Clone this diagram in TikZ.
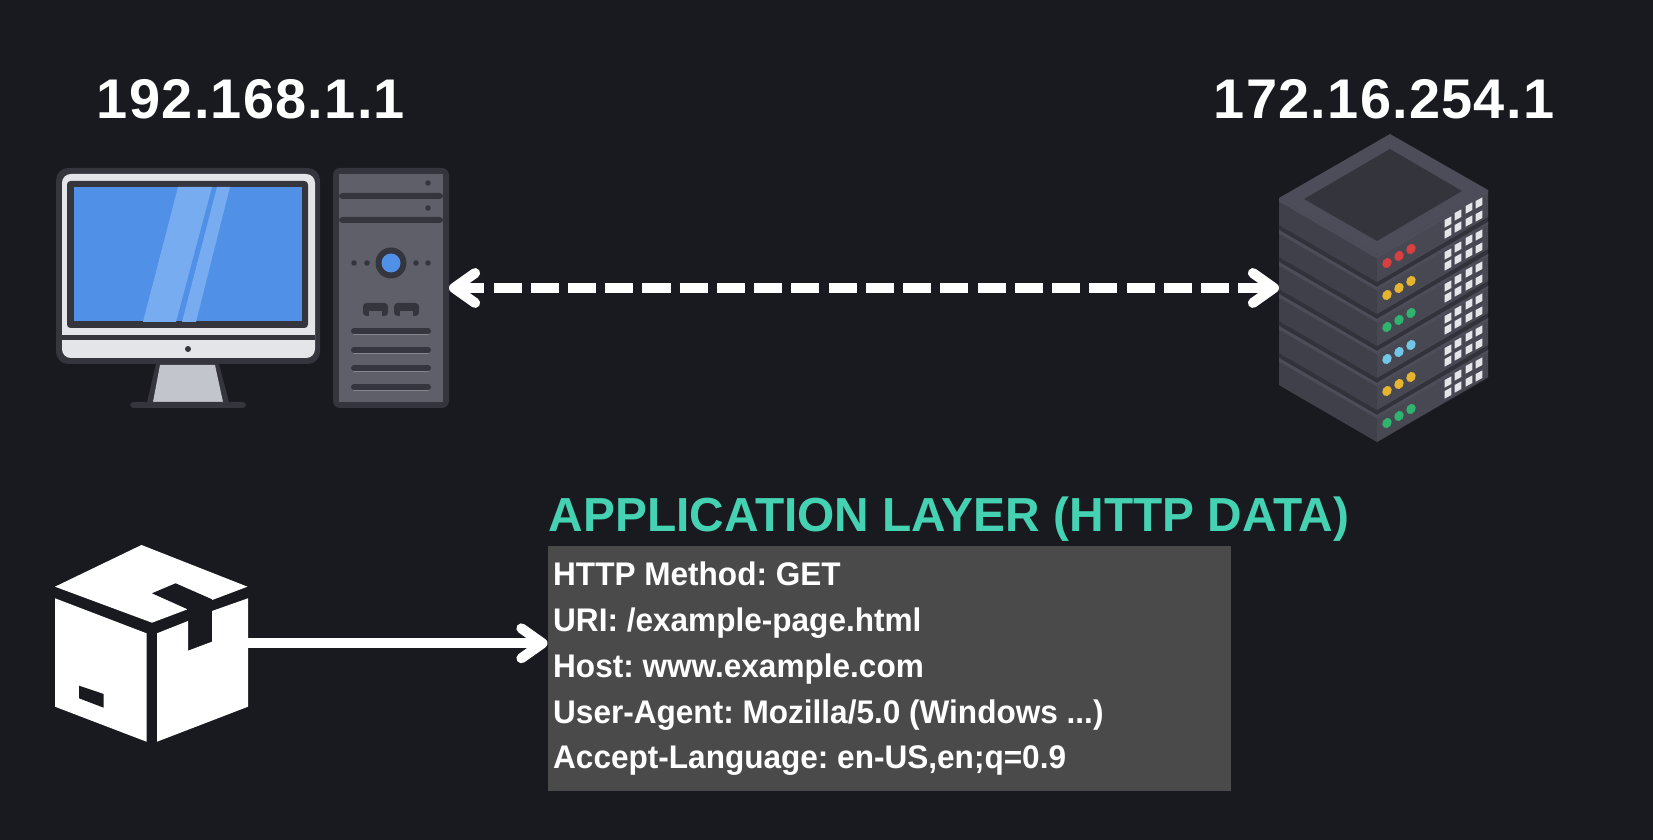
\documentclass[tikz,border=0pt]{standalone}
\usepackage{fontspec}
\setmainfont{Liberation Sans}
\usetikzlibrary{arrows.meta}
\definecolor{bgdark}{HTML}{191A1F}
\definecolor{rimdark}{HTML}{34353D}
\definecolor{bezel}{HTML}{E4E5E9}
\definecolor{screenblue}{HTML}{5090E6}
\definecolor{glare}{HTML}{78ACF0}
\definecolor{standgrey}{HTML}{C3C5CC}
\definecolor{towergrey}{HTML}{5E5F68}
\definecolor{slotlight}{HTML}{85868F}
\definecolor{rackleft}{HTML}{3F404A}
\definecolor{rackright}{HTML}{474852}
\definecolor{racktop}{HTML}{4C4D58}
\definecolor{rackinner}{HTML}{33343C}
\definecolor{rackgap}{HTML}{31323A}
\definecolor{teal}{HTML}{45D2B2}
\definecolor{boxgrey}{HTML}{4A4A4A}
\definecolor{ledred}{HTML}{D8403F}
\definecolor{ledyellow}{HTML}{E5B52F}
\definecolor{ledgreen}{HTML}{2FB36E}
\definecolor{ledblue}{HTML}{72C6E8}
\tikzset{
  iplabel/.style={text=white,font=\fontsize{15.9}{18}\selectfont\bfseries\addfontfeatures{LetterSpace=2.3},inner sep=0pt},
  flowline/.style={draw=white,line width=2.85pt,-{Straight Barb[round,length=6pt,width=8.5pt]}},
  slotline/.style={rimdark,line width=1.7pt,line cap=round}
}
\begin{document}
\frenchspacing
\begin{tikzpicture}[x=0.01cm,y=-0.01cm]
  \fill[bgdark] (0,0) rectangle (1653,840);
  \useasboundingbox (0,0) rectangle (1653,840);
  \node[iplabel] (pcip) at (251,99) {192.168.1.1};
  \node[iplabel] (serverip) at (1384,99) {172.16.254.1};
  % monitor
  \fill[rimdark,rounded corners=3.5pt] (56,168) rectangle (320,364);
  \fill[bezel,rounded corners=2.5pt] (62,174) rectangle (315,358);
  \fill[rimdark,rounded corners=1pt] (67,181) rectangle (308,328);
  \fill[screenblue] (74,187) rectangle (302,321);
  \fill[glare] (178,187)--(212,187)--(176,322)--(143,322)--cycle;
  \fill[glare] (217,187)--(230,187)--(196,322)--(182,322)--cycle;
  \fill[rimdark] (62,335) rectangle (315,340);
  \fill[rimdark] (188,349) circle (3);
  \fill[rimdark] (156,364)--(219,364)--(229,402)--(147,402)--cycle;
  \fill[standgrey] (160,365)--(215,365)--(223,402)--(153,402)--cycle;
  \fill[rimdark,rounded corners=1pt] (130,402) rectangle (246,408);
  % tower
  \fill[rimdark,rounded corners=2pt] (333,168) rectangle (449,408);
  \fill[towergrey] (339,174) rectangle (443,402);
  \fill[rimdark,rounded corners=1pt] (339,193) rectangle (443,199);
  \fill[rimdark,rounded corners=1pt] (339,217) rectangle (443,223);
  \foreach \dotx/\doty in {428/183,428/208,354/263,367/263,416/263,428/263}
    \fill[rimdark] (\dotx,\doty) circle (2.8);
  \fill[rimdark] (391,263) circle (15.5);
  \fill[screenblue] (391,263) circle (9.5);
  \foreach \tabx in {363,394}{
    \fill[rimdark,rounded corners=1pt] (\tabx,303) rectangle (\tabx+25,316);
    \fill[towergrey] (\tabx+6,311) rectangle (\tabx+19,316);
  }
  \foreach \sloty in {331,350,368,387}{
    \draw[slotlight,line width=.5pt,line cap=round] (354,\sloty+3.5)--(428,\sloty+3.5);
    \draw[slotline] (354,\sloty)--(428,\sloty);
  }
  % server
  \fill[rackgap] (1279,198)--(1377,255)--(1488,190)--(1488,378)--(1377,442)--(1279,385)--cycle;
  \foreach \i/\ledcol in {5/ledgreen,4/ledyellow,3/ledblue,2/ledgreen,1/ledyellow,0/ledred}{
    \begin{scope}[shift={(0,32*\i)}]
      \fill[rackleft] (1279,198)--(1377,255)--(1377,282)--(1279,225)--cycle;
      \fill[rackright] (1377,255)--(1488,190)--(1488,217)--(1377,282)--cycle;
      \fill[racktop] (1279,198)--(1377,255)--(1377,258.5)--(1279,201.5)--cycle;
      \fill[racktop] (1377,255)--(1488,190)--(1488,193.5)--(1377,258.5)--cycle;
      \fill[\ledcol,rotate around={-35:(1387,263)}] (1387,263) ellipse (4.4 and 5.4);
      \fill[\ledcol,rotate around={-35:(1399,256)}] (1399,256) ellipse (4.4 and 5.4);
      \fill[\ledcol,rotate around={-35:(1411,249)}] (1411,249) ellipse (4.4 and 5.4);
      \foreach \sx/\sy in {1448/222,1458/215,1469/208,1479/203,1448/233,1458/227,1469/221,1479/216}
        \fill[bezel,shift={(\sx,\sy)}] (-3.3,-2)--(3.3,-5.6)--(3.3,2)--(-3.3,5.6)--cycle;
    \end{scope}
  }
  \fill[racktop] (1390,134)--(1279,198)--(1377,255)--(1488,190)--cycle;
  \fill[rackinner] (1390,149)--(1304,199)--(1377,241)--(1462,191)--cycle;
  \coordinate (towerport) at (449,288);
  \coordinate (serverport) at (1279,288);
  \draw[flowline,{Straight Barb[round,length=6pt,width=8.5pt]}-{Straight Barb[round,length=6pt,width=8.5pt]},dash pattern=on 7.97pt off 2.62pt,dash phase=11.37pt] (towerport)--(serverport);
  % package
  \fill[white] (141.5,545)--(247.5,586.7)--(152,622.7)--(55,586.7)--cycle;
  \fill[bgdark] (175.6,583.3)--(152,593.3)--(187,609)--(188,650.7)--(212,641.7)--(212,599.3)--cycle;
  \fill[white] (55,598.3)--(146.5,633.3)--(146.5,741.7)--(55,706.7)--cycle;
  \fill[white] (157,633.3)--(188,621)--(188,650.7)--(212,641.7)--(212,611)--(248,598.3)--(248,706.7)--(157,741.7)--cycle;
  \fill[bgdark] (79,685.7)--(103.7,694)--(103.7,707.7)--(79,698.3)--cycle;
  \coordinate (packport) at (248,643.3);
  \node[fill=boxgrey,anchor=north west,minimum width=6.82cm,minimum height=2.45cm,inner sep=0pt] (httpbox) at (547.5,545) {};
  \node[anchor=west,align=left,inner sep=0pt,text=white,
    font=\fontsize{9.3}{13}\selectfont\bfseries\addfontfeatures{FakeStretch=0.965}] (httplines) at (552.5,669)
    {HTTP Method: GET\\URI: /example-page.html\\Host: www.example.com\\User-Agent: Mozilla/5.0 (Windows ...)\\Accept-Language: en-US,en;q=0.9};
  \node[anchor=base west,inner sep=0pt,text=teal,font=\fontsize{13.6}{16}\selectfont\bfseries] (layertitle) at (548,531.7) {APPLICATION LAYER (HTTP DATA)};
  \draw[flowline] (packport)--(packport -| httpbox.west);
\end{tikzpicture}
\end{document}
